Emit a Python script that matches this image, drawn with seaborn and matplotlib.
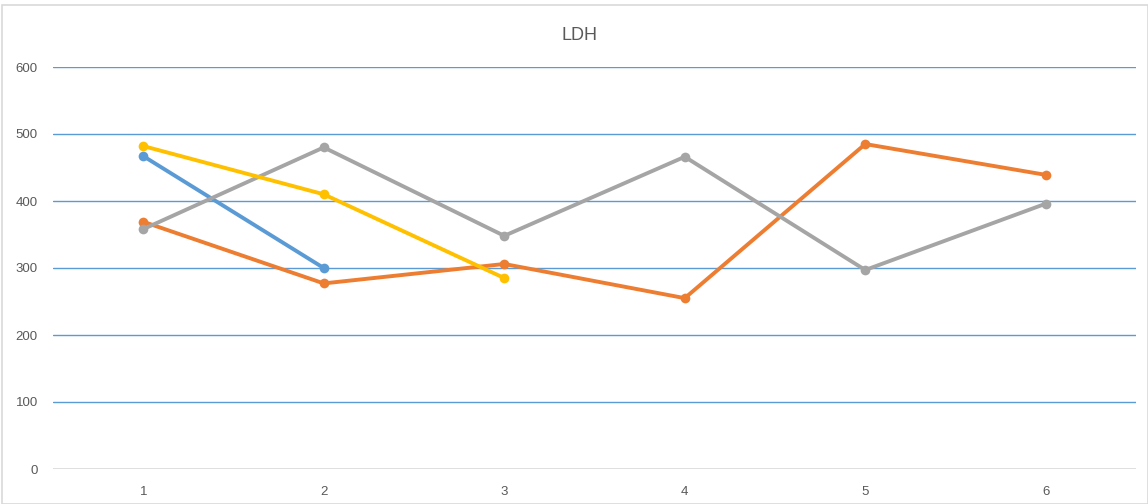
import matplotlib
matplotlib.use("Agg")
import matplotlib.pyplot as plt
import seaborn as sns
import pandas as pd
import numpy as np

x_vals = [1, 2, 3, 4, 5, 6]
s1 = [467, 300, np.nan, np.nan, np.nan, np.nan]
s2 = [369, 277, 306, 255, 485, 439]
s3 = [358, 480, 348, 466, 297, 396]
s4 = [482, 410, 285, np.nan, np.nan, np.nan]
series_names = ["Series1", "Series2", "Series3", "Series4"]
colors = ["#5B9BD5", "#ED7D31", "#A5A5A5", "#FFC000"]
y_ticks = [0, 100, 200, 300, 400, 500, 600]

rows = []
for name, vals in zip(series_names, [s1, s2, s3, s4]):
    for x, v in zip(x_vals, vals):
        rows.append({"x": x, "y": v, "series": name})
df = pd.DataFrame(rows).dropna()

sns.set_style("white")
plt.rcParams["font.family"] = ["Liberation Sans", "DejaVu Sans"]

fig = plt.figure(figsize=(11.48, 5.04), dpi=100)
ax = fig.add_axes([53 / 1148, 35 / 504, (1136 - 53) / 1148, (469 - 67) / 504])

# outer chart frame
fig.patches.append(plt.Rectangle((2 / 1148, 0), 1 - 2 / 1148, 1 - 5 / 504, transform=fig.transFigure,
                                 fill=False, edgecolor="#D9D9D9", lw=1.2))

for y in y_ticks[1:]:
    ax.axhline(y, color="#5B9BD5", lw=1.0, zorder=0)
ax.axhline(0, color="#D9D9D9", lw=1.2, zorder=0)

for name, c in zip(series_names, colors):
    sns.lineplot(data=df[df["series"] == name], x="x", y="y", color=c, lw=2.8,
                 marker="o", markersize=7, markeredgewidth=0, ax=ax, legend=False)

ax.set_xlim(0.5, 6.5)
ax.set_ylim(0, 600)
ax.set_xticks(x_vals)
ax.set_yticks(y_ticks)
ax.tick_params(axis="both", length=0, labelsize=9.5, colors="#595959")
ax.tick_params(axis="x", pad=12)
ax.tick_params(axis="y", pad=11)
ax.set_xlabel("")
ax.set_ylabel("")
for sp in ax.spines.values():
    sp.set_visible(False)

fig.text(0.505, 1 - 35 / 504, "LDH", ha="center", va="center", fontsize=13, color="#595959")

fig.savefig("out.png", dpi=100)
